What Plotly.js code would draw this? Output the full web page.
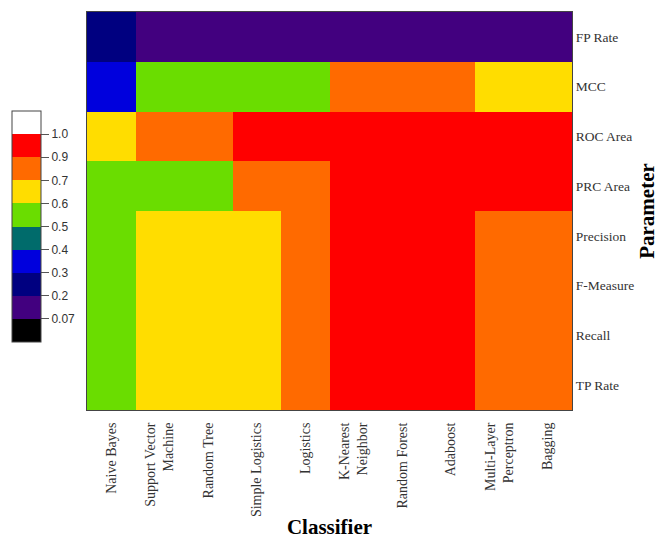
<!DOCTYPE html>
<html>
<head>
<meta charset="utf-8">
<script src="https://cdn.plot.ly/plotly-3.0.1.min.js"></script>
<style>html,body{margin:0;padding:0;background:#fff;}#chart{width:665px;height:539px;}</style>
</head>
<body>
<div id="chart"></div>
<script>
// Classifiers (x axis)
const classifiers = ["Naive Bayes","Support Vector<br>Machine","Random Tree","Simple Logistics","Logistics","K-Nearest<br>Neighbor","Random Forest","Adaboost","Multi-Layer<br>Perceptron","Bagging"];
// Parameters (y axis, bottom to top)
const parameters = ["TP Rate","Recall","F-Measure","Precision","PRC Area","ROC Area","MCC","FP Rate"];

// Values per parameter (one per classifier)
const tpRate    = [0.55,0.65,0.64,0.66,0.78,0.93,0.94,0.92,0.85,0.86];
const recall    = [0.55,0.65,0.64,0.66,0.78,0.93,0.94,0.92,0.85,0.86];
const fMeasure  = [0.54,0.64,0.63,0.65,0.77,0.93,0.94,0.92,0.85,0.86];
const precision = [0.57,0.66,0.65,0.67,0.79,0.93,0.94,0.92,0.86,0.87];
const prcArea   = [0.58,0.56,0.58,0.75,0.82,0.95,0.97,0.96,0.93,0.94];
const rocArea   = [0.66,0.72,0.75,0.92,0.91,0.96,0.98,0.97,0.95,0.96];
const mcc       = [0.35,0.52,0.55,0.56,0.58,0.85,0.88,0.84,0.68,0.69];
const fpRate    = [0.26,0.16,0.17,0.15,0.12,0.09,0.08,0.09,0.13,0.12];

// Colour levels (legend)
const levelBounds = [0,0.07,0.2,0.3,0.4,0.5,0.6,0.7,0.9,1.0,1.1];
const levelLabels = ["0.07","0.2","0.3","0.4","0.5","0.6","0.7","0.9","1.0"];
const levelColors = ["#000000","#42007F","#000080","#0000DD","#006B6B","#6ADD00","#FFDD00","#FF6A00","#FF0000","#FFFFFF"];

const rows = [tpRate,recall,fMeasure,precision,prcArea,rocArea,mcc,fpRate];

function toLevel(v){
  for(let i=0;i<levelBounds.length-1;i++){
    if(v>=levelBounds[i] && v<levelBounds[i+1]){
      return i + (v-levelBounds[i])/(levelBounds[i+1]-levelBounds[i]);
    }
  }
  return levelBounds.length-1.001;
}
const z = rows.map(r=>r.map(toLevel));
const text = rows.map(r=>r.map(v=>v.toFixed(2)));

const n = levelColors.length;
const colorscale = [];
levelColors.forEach((c,i)=>{colorscale.push([i/n,c]);colorscale.push([(i+1)/n,c]);});

const W=665,H=539,L=87,R=93,T=12,B=129;
const pw=W-L-R, ph=H-T-B;
const cbTop=111, cbBot=342;

const trace = {
  type:'heatmap',
  x: classifiers, y: parameters, z: z, text: text,
  hovertemplate:'%{x}<br>%{y}: %{text}<extra></extra>',
  colorscale: colorscale, zmin:0, zmax:n, zauto:false,
  colorbar:{
    x:(12-L)/pw, xanchor:'left', xref:'paper',
    y:1-((cbTop+cbBot)/2-T)/ph, yanchor:'middle',
    len:(cbBot-cbTop)/ph, lenmode:'fraction',
    thickness:29, thicknessmode:'pixels',
    xpad:0, ypad:0,
    outlinewidth:1, outlinecolor:'#444',
    tickmode:'array', tickvals:[1,2,3,4,5,6,7,8,9], ticktext:levelLabels,
    ticks:'outside', ticklen:8, tickcolor:'#555', tickwidth:1,
    tickfont:{family:'Liberation Sans, Arial, sans-serif', size:12, color:'#333'}
  }
};

const layout = {
  width:W, height:H,
  margin:{l:L,r:R,t:T,b:B,pad:0},
  paper_bgcolor:'#fff', plot_bgcolor:'#fff',
  font:{family:'Liberation Serif, Times New Roman, serif', color:'#333'},
  xaxis:{
    tickangle:-90, tickfont:{size:14, color:'#333'},
    showline:true, mirror:true, linecolor:'#444', linewidth:1,
    ticks:'outside', ticklen:6, tickcolor:'rgba(0,0,0,0)',
    title:{text:'<b>Classifier</b>', font:{size:21, color:'#000'}, standoff:13},
    fixedrange:true
  },
  yaxis:{
    side:'right', tickfont:{size:13.5, color:'#333'},
    showline:true, mirror:true, linecolor:'#444', linewidth:1,
    ticks:'', 
    title:{text:'<b>Parameter</b>', font:{size:21, color:'#000'}, standoff:6},
    fixedrange:true
  }
};

Plotly.newPlot('chart',[trace],layout,{displayModeBar:false,staticPlot:true});
</script>
</body>
</html>
